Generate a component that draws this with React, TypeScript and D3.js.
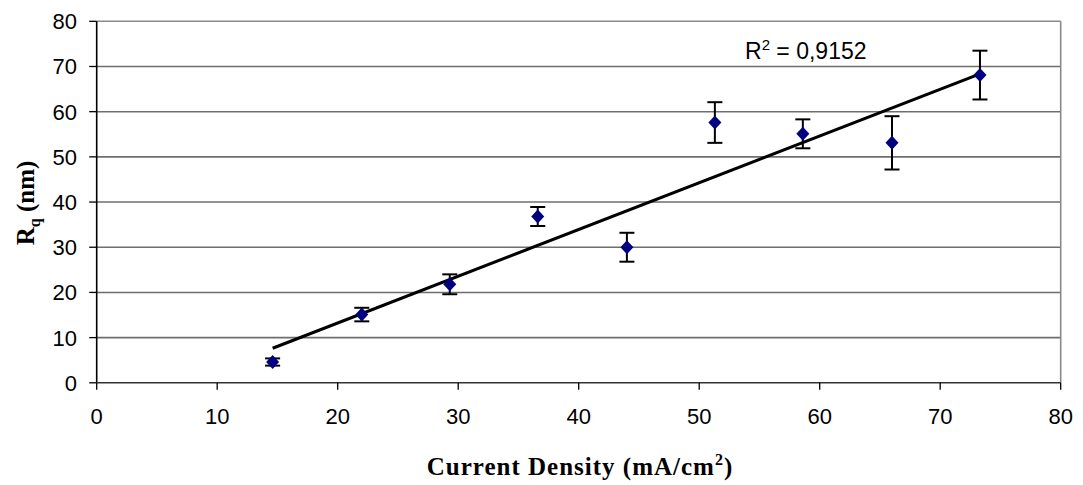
import React from "react";
import * as d3 from "d3";

const currentDensity = [14.6, 22.0, 29.3, 36.6, 44.0, 51.3, 58.6, 66.0, 73.3];
const rq = [4.6, 15.1, 21.8, 36.8, 30.0, 57.6, 55.1, 53.1, 68.1];
const rqError = [0.8, 1.5, 2.2, 2.1, 3.2, 4.5, 3.2, 5.9, 5.4];
const xTicks = [0, 10, 20, 30, 40, 50, 60, 70, 80];
const yTicks = [0, 10, 20, 30, 40, 50, 60, 70, 80];
const r2Label = "0,9152";

const W = 1083;
const H = 485;
const M = { left: 96.7, right: 1060.7, top: 21.3, bottom: 382.8 };

export default function App() {
  const x = d3.scaleLinear().domain([0, 80]).range([M.left, M.right]);
  const y = d3.scaleLinear().domain([0, 80]).range([M.bottom, M.top]);

  // least-squares trend line
  const mx = d3.mean(currentDensity) as number;
  const my = d3.mean(rq) as number;
  let num = 0;
  let den = 0;
  currentDensity.forEach((xi, i) => {
    num += (xi - mx) * (rq[i] - my);
    den += (xi - mx) * (xi - mx);
  });
  const slope = num / den;
  const intercept = my - slope * mx;
  const x0 = d3.min(currentDensity) as number;
  const x1 = d3.max(currentDensity) as number;
  const trend = d3.line<number>().x((d) => x(d)).y((d) => y(slope * d + intercept))([x0, x1]) as string;

  const diamond = (cx: number, cy: number) =>
    `M${cx},${cy - 7}L${cx + 6.5},${cy}L${cx},${cy + 7}L${cx - 6.5},${cy}Z`;

  const tickFont = { fontFamily: "'Liberation Sans', Arial, sans-serif", fontSize: 22, fill: "#000" };
  const serif = "'Liberation Serif', 'Times New Roman', serif";

  return (
    <svg width={W} height={H} style={{ position: "absolute", left: 0, top: 0, background: "#fff" }}>
      {/* gridlines */}
      {yTicks.filter((t) => t > 0).map((t) => (
        <line key={"g" + t} x1={M.left} x2={M.right} y1={y(t)} y2={y(t)} stroke={t === 80 ? "#8a8a8a" : "#6e6e6e"} strokeWidth={1.6} />
      ))}
      {/* right border */}
      <line x1={M.right} x2={M.right} y1={M.top} y2={M.bottom} stroke="#8a8a8a" strokeWidth={1.6} />
      {/* axes */}
      <line x1={M.left} x2={M.left} y1={M.top} y2={M.bottom} stroke="#000" strokeWidth={1.6} />
      <line x1={M.left} x2={M.right} y1={M.bottom} y2={M.bottom} stroke="#333" strokeWidth={1.6} />
      {yTicks.map((t) => (
        <g key={"y" + t}>
          <line x1={M.left - 7.5} x2={M.left} y1={y(t)} y2={y(t)} stroke="#000" strokeWidth={1.3} />
          <text x={77} y={y(t) + 8} textAnchor="end" {...tickFont}>{t}</text>
        </g>
      ))}
      {xTicks.map((t) => (
        <g key={"x" + t}>
          <line x1={x(t)} x2={x(t)} y1={M.bottom} y2={M.bottom + 7} stroke="#000" strokeWidth={1.3} />
          <text x={x(t)} y={424} textAnchor="middle" {...tickFont}>{t}</text>
        </g>
      ))}
      {/* trend line */}
      <path d={trend} stroke="#000" strokeWidth={3} fill="none" />
      {/* error bars */}
      {currentDensity.map((xv, i) => {
        const cx = x(xv);
        const top = y(rq[i] + rqError[i]);
        const bot = y(rq[i] - rqError[i]);
        return (
          <g key={"e" + i} stroke="#000" strokeWidth={2}>
            <line x1={cx} x2={cx} y1={top} y2={bot} />
            <line x1={cx - 7.5} x2={cx + 7.5} y1={top} y2={top} />
            <line x1={cx - 7.5} x2={cx + 7.5} y1={bot} y2={bot} />
          </g>
        );
      })}
      {/* points */}
      {currentDensity.map((xv, i) => (
        <path key={"p" + i} d={diamond(x(xv), y(rq[i]))} fill="#000080" />
      ))}
      {/* R² label */}
      <text x={745} y={58.5} {...tickFont} fontSize={23}>
        R<tspan fontSize={15} dy={-9}>2</tspan><tspan dy={9}> = {r2Label}</tspan>
      </text>
      {/* x label */}
      <text x={580} y={475} textAnchor="middle" fontFamily={serif} fontWeight="bold" fontSize={25} letterSpacing={1}>
        Current Density (mA/cm<tspan fontSize={16} dy={-10}>2</tspan><tspan dy={10}>)</tspan>
      </text>
      {/* y label */}
      <text transform={`translate(34,203) rotate(-90)`} textAnchor="middle" fontFamily={serif} fontWeight="bold" fontSize={25}>
        R<tspan fontSize={16} dy={6}>q</tspan><tspan dy={-6}> (nm)</tspan>
      </text>
    </svg>
  );
}
